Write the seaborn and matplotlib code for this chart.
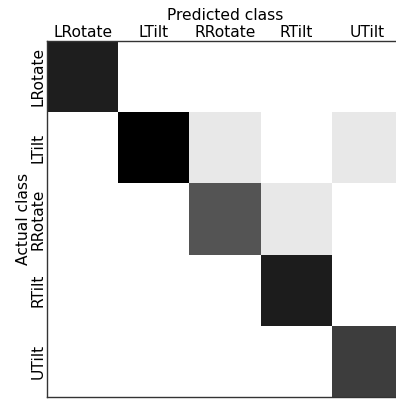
import numpy as np
import pandas as pd
import matplotlib
matplotlib.use('Agg')
import matplotlib.pyplot as plt
import seaborn as sns

classes = ['LRotate', 'LTilt', 'RRotate', 'RTilt', 'UTilt']
# rows = actual class, columns = predicted class (share of max)
row_lrotate = [0.88, 0.00, 0.00, 0.00, 0.00]
row_ltilt = [0.00, 1.00, 0.09, 0.00, 0.09]
row_rrotate = [0.00, 0.00, 0.67, 0.09, 0.00]
row_rtilt = [0.00, 0.00, 0.00, 0.89, 0.00]
row_utilt = [0.00, 0.00, 0.00, 0.00, 0.76]

cm = pd.DataFrame([row_lrotate, row_ltilt, row_rrotate, row_rtilt, row_utilt],
                  index=classes, columns=classes)

sns.set_style('white', {'text.color': 'black', 'axes.labelcolor': 'black',
                        'xtick.color': 'black', 'ytick.color': 'black'})
plt.rcParams['font.family'] = ['DejaVu Sans']
plt.rcParams['xtick.major.size'] = 4
plt.rcParams['ytick.major.size'] = 4

fig = plt.figure(figsize=(3.96, 3.99), dpi=100)
ax = fig.add_axes([47 / 396, 2 / 399, 356 / 396, 356 / 399])
sns.heatmap(cm, cmap='gray_r', vmin=0, vmax=1, cbar=False, square=False, ax=ax)

for s in ax.spines.values():
    s.set_visible(True)
    s.set_color('#333333')
    s.set_linewidth(1)

ax.xaxis.set_ticks_position('both')
ax.yaxis.set_ticks_position('both')
ax.xaxis.set_label_position('top')
ax.tick_params(axis='x', which='major', top=True, bottom=True, labeltop=True,
               labelbottom=False, direction='in', length=4, width=0.8,
               color='#444444', labelsize=11.2, pad=1)
ax.tick_params(axis='y', which='major', left=True, right=True, direction='in',
               length=4, width=0.8, color='#444444', labelsize=11.2, pad=1)
ax.set_xticklabels(classes, rotation=0)
ax.set_yticklabels(classes, rotation=90, va='center')
ax.set_xlabel('Predicted class', fontsize=11.2, labelpad=3)
ax.set_ylabel('Actual class', fontsize=11.2, labelpad=0)

fig.savefig('out.png', dpi=100)
